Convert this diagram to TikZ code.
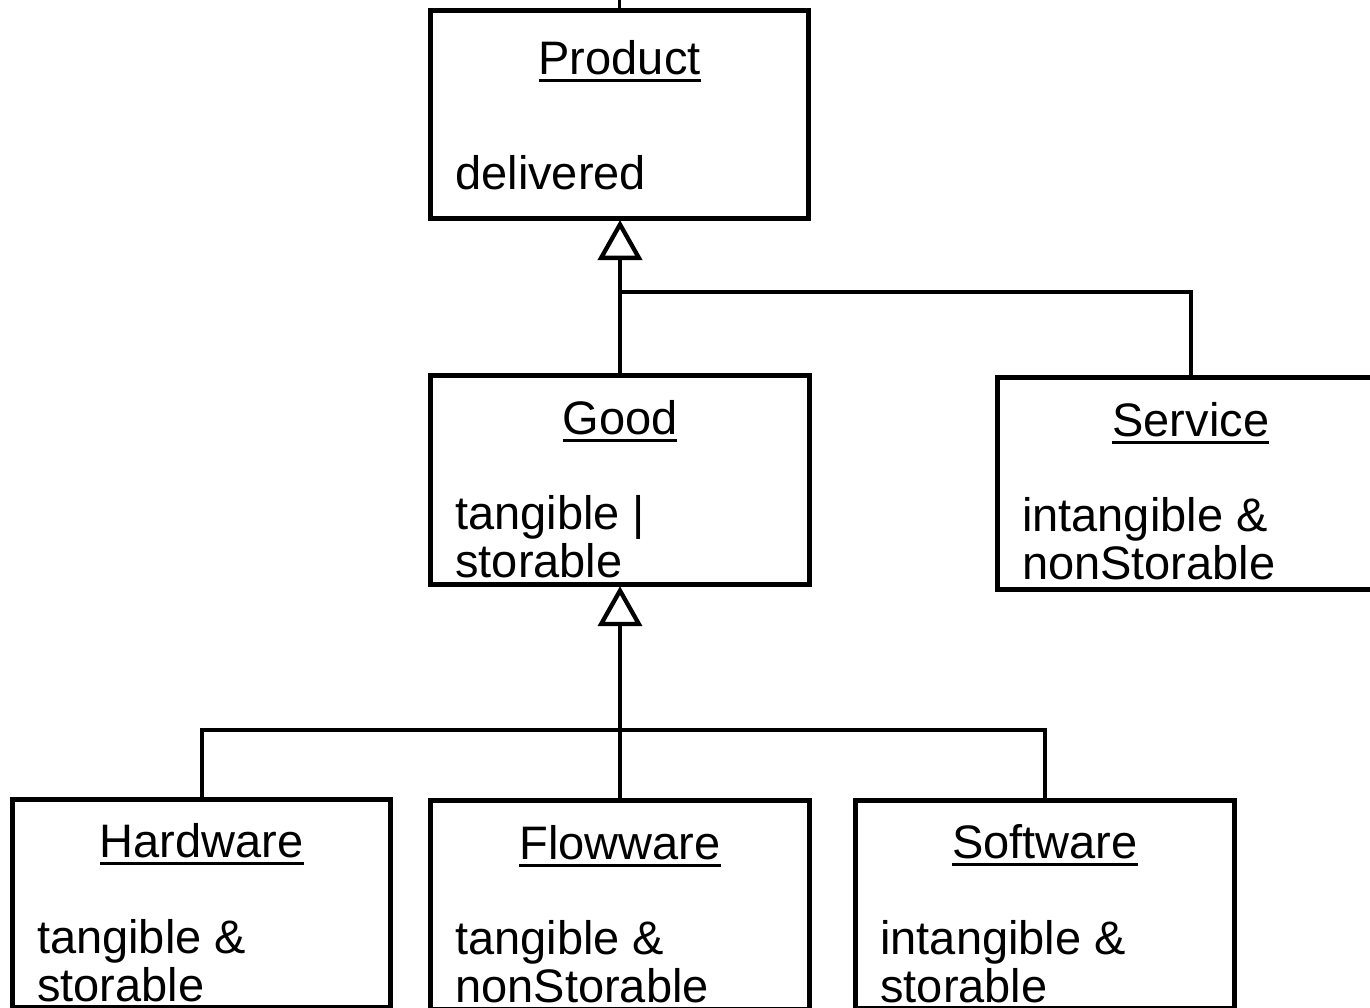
\documentclass[tikz,border=0pt]{standalone}
\usepackage{fontspec}
\setmainfont{Liberation Sans}
\usetikzlibrary{arrows.meta,calc}

\begin{document}
\begin{tikzpicture}[x=1pt,y=-1pt,
  font=\fontsize{47}{48}\selectfont,
  classbox/.style={draw, line width=5pt, minimum width=378.4pt,
    minimum height=208.4pt, inner sep=0pt, outer sep=0pt, anchor=north west},
  classname/.style={anchor=base, inner sep=0pt, outer sep=0pt},
  attr/.style={anchor=base west, inner sep=0pt, outer sep=0pt},
  uline/.style={line width=3pt},
  link/.style={line width=4.3pt},
  gen/.style={-{Triangle[open, length=40pt, width=44pt]}},
]
\useasboundingbox (0,0) rectangle (1370,1007);

% classes
\node[classbox, minimum width=377.6pt, minimum height=208pt] (prod) at (430.8,10) {};
\node[classbox] (good) at (430.8,375.8) {};
\node[classbox, minimum width=386.6pt, minimum height=211.7pt] (serv) at (997.5,377.5) {};
\node[classbox] (hard) at (12.5,799.2) {};
\node[classbox] (flow) at (430.8,800.8) {};
\node[classbox] (soft) at (855.8,800.2) {};

% class names (underlined)
\node[classname] (prodT) at ($(prod.north)+(0,64)$) {Product};
\node[classname] (goodT) at ($(good.north)+(0,58.5)$) {Good};
\node[classname] (servT) at ($(serv.north)+(0,59)$) {Service};
\node[classname] (hardT) at ($(hard.north)+(0,58.5)$) {Hardware};
\node[classname] (flowT) at ($(flow.north)+(0,58.5)$) {Flowware};
\node[classname] (softT) at ($(soft.north)+(0,58.5)$) {Software};
\foreach \t in {prodT,goodT,servT,hardT,flowT,softT}
  \draw[uline] ([yshift=-6pt]\t.base west) -- ([yshift=-6pt]\t.base east);

% attributes
\node[attr] (prodA) at ($(prod.north west)+(24.5,179)$) {delivered};
\node[attr] (goodA1) at ($(good.north west)+(24.5,154)$) {tangible |};
\node[attr] (goodA2) at ($(good.north west)+(24.5,202)$) {storable};
\node[attr] (servA1) at ($(serv.north west)+(24.5,154)$) {intangible \&};
\node[attr] (servA2) at ($(serv.north west)+(24.5,202)$) {nonStorable};
\node[attr] (hardA1) at ($(hard.north west)+(24.5,154)$) {tangible \&};
\node[attr] (hardA2) at ($(hard.north west)+(24.5,202)$) {storable};
\node[attr] (flowA1) at ($(flow.north west)+(24.5,154)$) {tangible \&};
\node[attr] (flowA2) at ($(flow.north west)+(24.5,202)$) {nonStorable};
\node[attr] (softA1) at ($(soft.north west)+(24.5,154)$) {intangible \&};
\node[attr] (softA2) at ($(soft.north west)+(24.5,202)$) {storable};

% generalisation links
\coordinate (top) at (619.5,-10);
\draw[line width=2.7pt] (prod.north) -- (top);

\coordinate (j1) at (620,292);
\draw[link, gen] (good.north) -- ($(good.north |- prod.south)+(0,2)$);
\draw[link] (serv.north) |- (j1);

\coordinate (j2) at (620,729.8);
\draw[link, gen] (flow.north) -- ($(good.south)+(0,2)$);
\draw[link] (hard.north) |- (soft.north |- j2) -- (soft.north);
\end{tikzpicture}
\end{document}
